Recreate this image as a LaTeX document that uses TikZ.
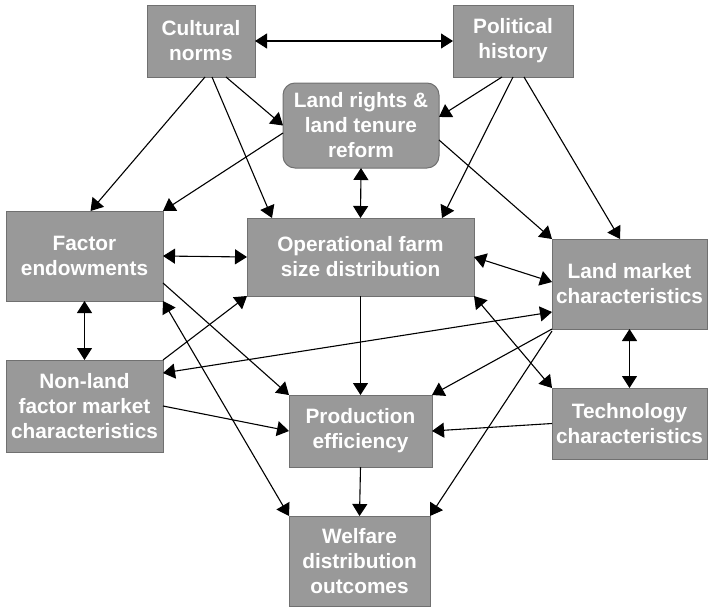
\documentclass[tikz,border=0pt]{standalone}
\usepackage{fontspec}
\setmainfont{Liberation Sans}
\usetikzlibrary{arrows.meta}
\definecolor{boxfill}{HTML}{999999}
\definecolor{boxline}{HTML}{707070}
\begin{document}
\begin{tikzpicture}[x=1pt,y=-1pt,
  box/.style={draw=boxline, line width=1pt, fill=boxfill, text=white,
    font=\fontsize{20.8}{25}\selectfont\bfseries, align=center,
    inner sep=0pt, outer sep=0pt},
  link/.style={line width=1.1pt, -{Triangle[length=12pt,width=15pt]}},
  both/.style={line width=1.1pt, {Triangle[length=12pt,width=15pt]}-{Triangle[length=12pt,width=15pt]}}]
\useasboundingbox (0,0) rectangle (708,608);

% boxes
\node[box, minimum width=108pt, minimum height=72pt] (cult) at (201,41) {Cultural\\norms};
\node[box, minimum width=120pt, minimum height=72pt] (pol) at (513,41) {Political\\history};
\node[box, rounded corners=12pt, minimum width=156pt, minimum height=85pt] (lr) at (361,125.5) {Land rights \&\\land tenure\\reform};
\node[box, minimum width=157pt, minimum height=90pt] (fac) at (84.5,256) {Factor\\endowments};
\node[box, minimum width=227pt, minimum height=78pt] (op) at (360.5,257) {Operational farm\\size distribution};
\node[box, minimum width=155pt, minimum height=90pt] (lm) at (629.5,284) {Land market\\characteristics};
\node[box, minimum width=157pt, minimum height=92pt] (nl) at (84.5,406) {Non-land\\factor market\\characteristics};
\node[box, minimum width=143pt, minimum height=72pt] (prod) at (360.5,431) {Production\\efficiency};
\node[box, minimum width=155pt, minimum height=71pt] (tech) at (629.5,423.5) {Technology\\characteristics};
\node[box, minimum width=141pt, minimum height=90pt] (wel) at (359.5,561) {Welfare\\distribution\\outcomes};

% links from the top row
\draw[both] (cult.east) -- (pol.west);
\draw[link] ([xshift=79pt]cult.south west) -- (lr.west);
\draw[link] ([xshift=58pt]cult.south west) -- ([xshift=6pt]fac.north);
\draw[link] ([xshift=65pt]cult.south west) -- ([xshift=25pt]op.north west);
\draw[link] ([xshift=49pt]pol.south west) -- ([yshift=8.5pt]lr.east);
\draw[link] ([xshift=60pt]pol.south west) -- ([xshift=-32pt]op.north east);
\draw[link] ([xshift=71pt]pol.south west) -- ([xshift=-9.5pt]lm.north);

% land rights
\draw[link] ([yshift=-7.5pt]lr.west) -- (fac.north east);
\draw[link] ([yshift=-14.5pt]lr.east) -- (lm.north west);
\draw[both] (lr.south) -- (op.north);

% factor endowments
\draw[both] (fac.east) -- (op.west);
\draw[both] (fac.south) -- (nl.north);
\draw[link] ([yshift=-27pt]fac.east) -- (prod.north west);
\draw[both] (fac.south east) -- (wel.north west);

% non-land factor markets
\draw[link] (nl.north east) -- (op.south west);
\draw[both] ([yshift=33pt]nl.east) -- ([yshift=-28pt]lm.west);
\draw[link] (nl.east) -- (prod.west);

% operational farm size
\draw[link] (op.south) -- (prod.north);
\draw[both] (op.east) -- ([yshift=2pt]lm.west);
\draw[both] (op.south east) -- (tech.north west);

% land market and technology
\draw[link] (lm.south west) -- (prod.north east);
\draw[link] ([yshift=-2pt]lm.south west) -- (wel.north east);
\draw[both] (lm.south) -- (tech.north);
\draw[link] (tech.west) -- (prod.east);

% outcomes
\draw[link] (prod.south) -- (wel.north);
\end{tikzpicture}
\end{document}
